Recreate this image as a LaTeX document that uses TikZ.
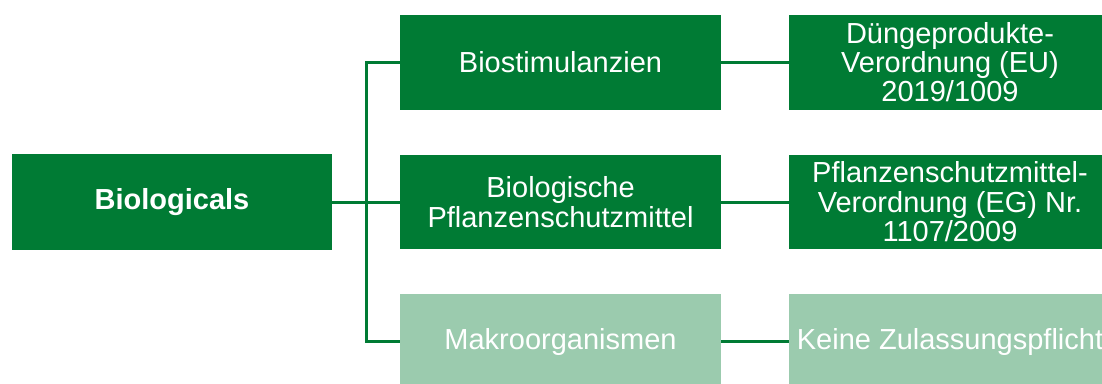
\documentclass[tikz,border=0pt]{standalone}
\usepackage{fontspec}
\setmainfont{Liberation Sans}
\definecolor{dg}{RGB}{0,123,52}
\definecolor{lg}{RGB}{155,203,174}
\begin{document}
\begin{tikzpicture}[x=1pt,y=-1pt,
  box/.style={rectangle, fill=dg, text=white, inner sep=0pt, align=center,
    minimum width=321pt, minimum height=95pt, font=\fontsize{29}{30}\selectfont},
  lbox/.style={box, fill=lg},
  conn/.style={draw=dg, line width=3pt}]
\useasboundingbox (0,0) rectangle (1102,383);
\clip (0,0) rectangle (1102,383);
\node[box, minimum width=320pt, minimum height=96pt, font=\bfseries\fontsize{29}{30}\selectfont] (bio) at (172,202) {Biologicals};
\node[box] (m1) at (560.5,62.5) {Biostimulanzien};
\node[box, minimum height=94pt] (m2) at (560.5,202) {Biologische\\Pflanzenschutzmittel};
\node[lbox] (m3) at (560.5,341.5) {Makroorganismen};
\node[box, minimum width=322pt, font=\fontsize{29}{29}\selectfont] (r1) at (950,62.5) {Düngeprodukte-\\Verordnung (EU)\\2019/1009};
\node[box, minimum width=322pt, minimum height=94pt, font=\fontsize{29}{29.5}\selectfont] (r2) at (950,202) {Pflanzenschutzmittel-\\Verordnung (EG) Nr.\\1107/2009};
\node[lbox, minimum width=322pt] (r3) at (950,341.5) {Keine Zulassungspflicht};
\coordinate (j) at (366,202);
\draw[conn] (bio.east) -- (m2.west);
\draw[conn] (m1.west) -| (j) |- (m3.west);
\draw[conn] (m1.east) -- (r1.west);
\draw[conn] (m2.east) -- (r2.west);
\draw[conn] (m3.east) -- (r3.west);
\end{tikzpicture}
\end{document}
